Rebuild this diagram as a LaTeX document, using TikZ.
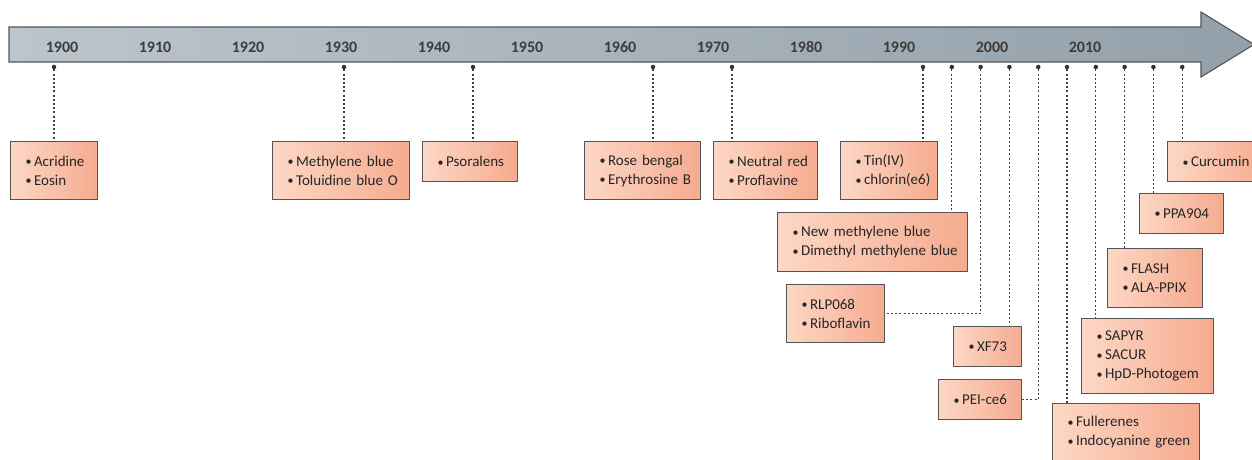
\documentclass[tikz,border=0pt]{standalone}
\usepackage{fontspec}
\setmainfont{Carlito}
\usepackage{tikz}

\definecolor{barL}{HTML}{BCC5CC}
\definecolor{barR}{HTML}{93A0AA}
\definecolor{peachL}{HTML}{FDD7C5}
\definecolor{peachR}{HTML}{F5AB8F}
\definecolor{edgegray}{HTML}{555555}
\definecolor{yeargray}{HTML}{3C3C3C}

\newcommand{\bul}[1]{\mbox{\makebox[8.5pt][l]{\raisebox{0.5pt}{\scalebox{0.8}{•}}}#1}}

\tikzset{
  drug/.style={draw=edgegray, line width=1.1pt, left color=peachL, right color=peachR,
    anchor=north west, align=left, inner xsep=15pt, inner ysep=0pt,
    font=\fontsize{15}{19}\selectfont, text=black!85},
  year/.style={font=\fontsize{16}{18}\selectfont\bfseries, text=yeargray},
  dot/.style={circle, fill=black!80, inner sep=0pt, minimum size=4.5pt},
  lead/.style={draw=black!75, line width=1.3pt, dash pattern=on 2pt off 2.2pt}
}

\begin{document}
\begin{tikzpicture}[x=1pt, y=-1pt]
\useasboundingbox (0,0) rectangle (1252,459);
% time arrow
\draw[draw=edgegray, line width=1.1pt, left color=barL, right color=barR]
  (9,27) -- (1201,27) -- (1201,12) -- (1254,44.5) -- (1201,77) -- (1201,62) -- (9,62) -- cycle;
\node[year] (y1900) at (62,47) {1900};
\node[year] (y1910) at (155,47) {1910};
\node[year] (y1920) at (248,47) {1920};
\node[year] (y1930) at (341,47) {1930};
\node[year] (y1940) at (434,47) {1940};
\node[year] (y1950) at (527,47) {1950};
\node[year] (y1960) at (620,47) {1960};
\node[year] (y1970) at (713,47) {1970};
\node[year] (y1980) at (806,47) {1980};
\node[year] (y1990) at (899,47) {1990};
\node[year] (y2000) at (992,47) {2000};
\node[year] (y2010) at (1085,47) {2010};
% dates
\node[dot] (dacr) at (54,67) {};
\node[dot] (dmeth) at (344,67) {};
\node[dot] (dpsor) at (473,67) {};
\node[dot] (drose) at (653,67) {};
\node[dot] (dneut) at (732,67) {};
\node[dot] (dtin) at (923,67) {};
\node[dot] (dnmb) at (951.8,67) {};
\node[dot] (drlp) at (980.6,67) {};
\node[dot] (dxf) at (1009.4,67) {};
\node[dot] (dpei) at (1038.2,67) {};
\node[dot] (dful) at (1067,67) {};
\node[dot] (dsap) at (1095.8,67) {};
\node[dot] (dfla) at (1124.6,67) {};
\node[dot] (dppa) at (1153.4,67) {};
\node[dot] (dcur) at (1182.2,67) {};
% agents
\node[drug, text width=57pt, minimum height=58pt] (acr) at (10,141) {\bul{Acridine}\\\bul{Eosin}};
\node[drug, text width=107pt, minimum height=58pt] (meth) at (272,141) {\bul{Methylene blue}\\\bul{Toluidine blue O}};
\node[drug, text width=65pt, minimum height=40pt] (psor) at (422,141) {\bul{Psoralens}};
\node[drug, text width=86pt, minimum height=58pt] (rose) at (584,141) {\bul{Rose bengal}\\\bul{Erythrosine B}};
\node[drug, text width=74pt, minimum height=58pt] (neut) at (713,141) {\bul{Neutral red}\\\bul{Proflavine}};
\node[drug, text width=67pt, minimum height=58pt] (tin) at (840,141) {\bul{Tin(IV)}\\\bul{chlorin(e6)}};
\node[drug, text width=70pt, minimum height=40pt] (cur) at (1167,141) {\bul{Curcumin}};
\node[drug, text width=54pt, minimum height=40pt] (ppa) at (1139,193) {\bul{PPA904}};
\node[drug, text width=160pt, minimum height=59pt] (nmb) at (777,212) {\bul{New methylene blue}\\\bul{Dimethyl methylene blue}};
\node[drug, text width=65pt, minimum height=59pt] (fla) at (1107,248) {\bul{FLASH}\\\bul{ALA-PPIX}};
\node[drug, text width=68pt, minimum height=58pt] (rlp) at (786,284) {\bul{RLP068}\\\bul{Riboflavin}};
\node[drug, text width=102pt, minimum height=75pt] (sap) at (1081,318) {\bul{SAPYR}\\\bul{SACUR}\\\bul{HpD-Photogem}};
\node[drug, text width=38pt, minimum height=40pt] (xf) at (953,326) {\bul{XF73}};
\node[drug, text width=53pt, minimum height=40pt] (pei) at (938,379) {\bul{PEI-ce6}};
\node[drug, text width=117pt, minimum height=58pt] (ful) at (1052,403) {\bul{Fullerenes}\\\bul{Indocyanine green}};
% leaders
\draw[lead] (dacr) -- (dacr |- acr.north);
\draw[lead] (dmeth) -- (dmeth |- meth.north);
\draw[lead] (dpsor) -- (dpsor |- psor.north);
\draw[lead] (drose) -- (drose |- rose.north);
\draw[lead] (dneut) -- (dneut |- neut.north);
\draw[lead] (dtin) -- (dtin |- tin.north);
\draw[lead] (dnmb) -- (dnmb |- nmb.north);
\draw[lead] (drlp) |- (rlp.east);
\draw[lead] (dxf) -- (dxf |- xf.north);
\draw[lead] (dpei) |- (pei.east);
\draw[lead] (dful) -- (dful |- ful.north);
\draw[lead] (dsap) -- (dsap |- sap.north);
\draw[lead] (dfla) -- (dfla |- fla.north);
\draw[lead] (dppa) -- (dppa |- ppa.north);
\draw[lead] (dcur) -- (dcur |- cur.north);
\end{tikzpicture}
\end{document}
